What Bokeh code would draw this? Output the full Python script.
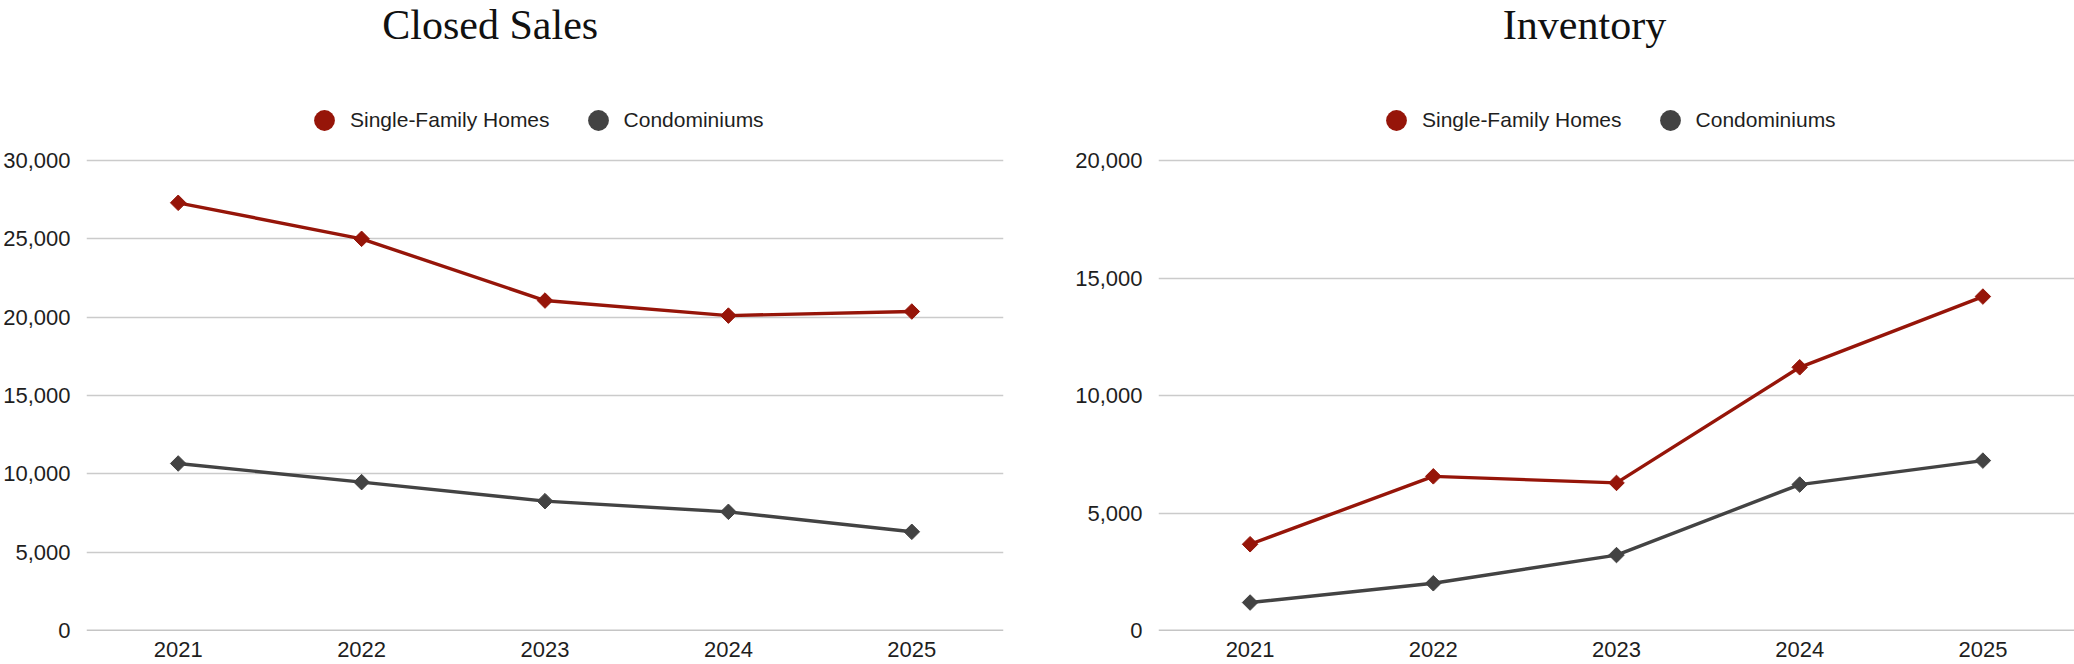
import math
from bokeh.plotting import figure
from bokeh.models import (Range1d, FixedTicker, NumeralTickFormatter, Span, Label,
                          Legend, LegendItem, ColumnDataSource)
from bokeh.layouts import row
from bokeh.embed import file_html
from bokeh.resources import INLINE

years = [2021, 2022, 2023, 2024, 2025]
series_names = ["Single-Family Homes", "Condominiums"]

closed_sfh = [27300, 25000, 21060, 20100, 20360]
closed_condo = [10660, 9470, 8255, 7575, 6300]
closed_ticks = [0, 5000, 10000, 15000, 20000, 25000, 30000]

inv_sfh = [3670, 6560, 6280, 11200, 14210]
inv_condo = [1190, 2010, 3210, 6210, 7230]
inv_ticks = [0, 5000, 10000, 15000, 20000]

RED = "#961509"
GRAY = "#434343"
SANS = "Liberation Sans"
SERIF = "Liberation Serif"

GRID_H = 470      # pixels from 0 to the top tick
TOP_GAP = 160     # pixels above the top tick (title + legend area)
BOTTOM = 34
LEFT = 86


def make_chart(title, sfh, condo, ticks, width, right_border, title_x):
    top_val = ticks[-1]
    y_end = top_val * (GRID_H + TOP_GAP) / GRID_H
    p = figure(width=width, height=TOP_GAP + GRID_H + BOTTOM,
               x_range=Range1d(2020.5, 2025.5), y_range=Range1d(0, y_end),
               output_backend="svg", toolbar_location=None,
               min_border_left=LEFT, min_border_right=right_border,
               min_border_top=0, min_border_bottom=BOTTOM)
    p.outline_line_color = None
    p.background_fill_color = "white"
    p.border_fill_color = "white"

    p.xgrid.grid_line_color = None
    p.ygrid.ticker = FixedTicker(ticks=ticks[1:])
    p.ygrid.grid_line_color = "#cbcbcb"
    p.ygrid.grid_line_width = 1.6

    p.yaxis.ticker = FixedTicker(ticks=ticks)
    p.yaxis.formatter = NumeralTickFormatter(format="0,0")
    p.xaxis.ticker = FixedTicker(ticks=years)
    for ax in (p.xaxis[0], p.yaxis[0]):
        ax.axis_line_color = None
        ax.major_tick_line_color = None
        ax.minor_tick_line_color = None
        ax.major_tick_out = 0
        ax.major_tick_in = 0
        ax.major_label_text_font = SANS
        ax.major_label_text_font_size = "22px"
        ax.major_label_text_color = "#1e1e1e"
    p.yaxis.major_label_standoff = 16
    p.xaxis.major_label_standoff = 11

    p.add_layout(Span(location=0, dimension="width", line_color="#8c8c8c", line_width=1.6))

    legend_renderers = []
    for vals, col in ((sfh, RED), (condo, GRAY)):
        src = ColumnDataSource(dict(x=years, y=vals))
        p.line("x", "y", source=src, line_color=col, line_width=3.4)
        p.scatter("x", "y", source=src, marker="square", angle=math.pi / 4, size=11,
                  fill_color=col, line_color=col, line_width=1)
        # legend swatch: circle renderer whose own points are drawn at size 0
        legend_renderers.append(
            p.scatter("x", "y", source=src, marker="circle", size=0,
                      fill_color=col, line_color=None))

    legend = Legend(items=[LegendItem(label=series_names[0], renderers=[legend_renderers[0]]),
                           LegendItem(label=series_names[1], renderers=[legend_renderers[1]])],
                    orientation="horizontal", location=(212, 484),
                    glyph_width=52, glyph_height=52, label_standoff=0, spacing=22,
                    padding=0, margin=0, border_line_color=None,
                    background_fill_alpha=0, label_text_font=SANS,
                    label_text_font_size="21px", label_text_color="#1e1e1e")
    p.add_layout(legend, "center")

    p.add_layout(Label(x=title_x, y=606, x_units="screen", y_units="screen",
                       text=title, text_align="center", text_baseline="alphabetic",
                       text_font=SERIF, text_font_size="42px", text_color="#111111"))
    return p


left = make_chart("Closed Sales", closed_sfh, closed_condo, closed_ticks,
                  1072, 69, 403.7)
right = make_chart("Inventory", inv_sfh, inv_condo, inv_ticks,
                   1002, 0, 426)

layout = row(left, right)
open("out.html", "w").write(file_html(layout, INLINE))
